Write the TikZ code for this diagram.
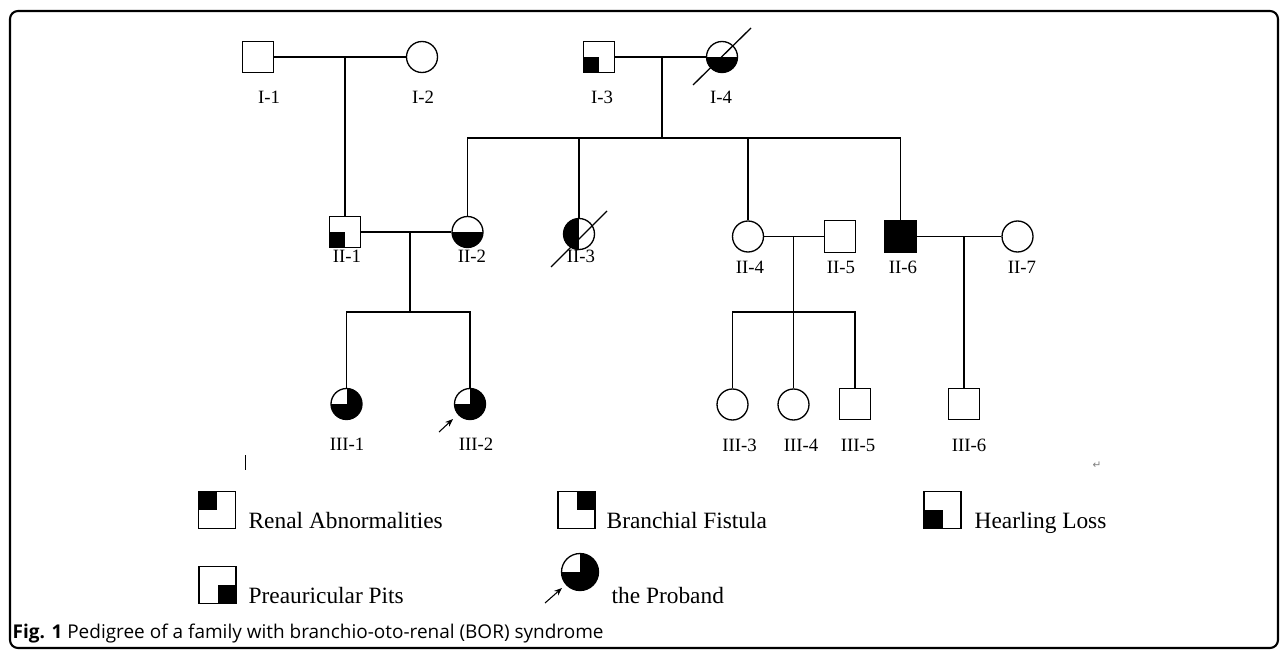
\documentclass[tikz,border=0pt]{standalone}
\usepackage{fontspec}
\setmainfont{Liberation Serif}
\newfontfamily\capfont{Open Sans}
\newfontfamily\symfont{DejaVu Sans}
\usetikzlibrary{arrows.meta}

\begin{document}
\begin{tikzpicture}[x=0.02cm,y=-0.02cm,line width=0.75pt,
    male/.style={draw,rectangle,minimum size=0.63cm,inner sep=0pt},
    female/.style={draw,circle,minimum size=0.62cm,inner sep=0pt},
    big/.style={minimum size=0.74cm},
    tl/.style={path picture={\fill (path picture bounding box.north west) rectangle (path picture bounding box.center);}},
    tr/.style={path picture={\fill (path picture bounding box.north east) rectangle (path picture bounding box.center);}},
    bl/.style={path picture={\fill (path picture bounding box.south west) rectangle (path picture bounding box.center);}},
    br/.style={path picture={\fill (path picture bounding box.south east) rectangle (path picture bounding box.center);}},
    lowhalf/.style={path picture={\fill (path picture bounding box.south west) rectangle (path picture bounding box.east);}},
    lefthalf/.style={path picture={\fill (path picture bounding box.south west) rectangle (path picture bounding box.north);}},
    threeq/.style={path picture={\fill (path picture bounding box.south west) rectangle (path picture bounding box.east);
        \fill (path picture bounding box.center) rectangle (path picture bounding box.north east);}},
    lab/.style={anchor=base,inner sep=0pt,font=\fontsize{10.7}{12}\selectfont},
    legtext/.style={anchor=base west,inner sep=0pt,font=\fontsize{13.3}{15}\selectfont},
    parrow/.style={-{Stealth[length=4.5pt,width=3.5pt]},line width=0.6pt}]
  \useasboundingbox (0,0) rectangle (1287,649);
  \draw[line width=1.2pt,rounded corners=0.16cm] (10,11) rectangle (1278,648);

  % generation I
  \node[male] (I1) at (258,57) {};
  \node[female] (I2) at (422,57) {};
  \node[male,bl] (I3) at (599,57) {};
  \node[female,lowhalf] (I4) at (722,57) {};
  \node[lab] (lI1) at (269,103) {I-1};
  \node[lab] (lI2) at (423,103) {I-2};
  \node[lab] (lI3) at (602,103) {I-3};
  \node[lab] (lI4) at (721,103) {I-4};
  \draw (I1) -- (I2);
  \draw (I3) -- (I4);
  \draw ([shift={(-29,28)}]I4.center) -- ([shift={(29,-29)}]I4.center);

  % generation II
  \node[male,bl] (II1) at (345,232) {};
  \node[female,lowhalf] (II2) at (467.5,232) {};
  \node[female,lefthalf] (II3) at (579,234) {};
  \node[female] (II4) at (748,236.5) {};
  \node[male] (II5) at (840,236.5) {};
  \node[male,fill=black] (II6) at (900.5,236.5) {};
  \node[female] (II7) at (1017.5,236.5) {};
  \node[lab] (lII1) at (347,262.7) {II-1};
  \node[lab] (lII2) at (472,262.7) {II-2};
  \node[lab] (lII3) at (581,262.7) {II-3};
  \node[lab] (lII4) at (750,273) {II-4};
  \node[lab] (lII5) at (841,273) {II-5};
  \node[lab] (lII6) at (903,273) {II-6};
  \node[lab] (lII7) at (1022,273) {II-7};
  \draw ([shift={(-28,33)}]II3.center) -- ([shift={(28,-23)}]II3.center);

  \coordinate (c1) at (345,57);
  \coordinate (c2) at (662,57);
  \coordinate (s2) at (662,138);
  \draw (c1) -- (II1);
  \draw (c2) -- (s2);
  \draw (s2) -| (II2);
  \draw (s2) -| (II3);
  \draw (s2) -| (II4);
  \draw (s2) -| (II6);
  \draw (II1) -- (II2);
  \draw (II4) -- (II5);
  \draw (II6) -- (II7);

  % generation III
  \node[female,threeq] (III1) at (346.5,404) {};
  \node[female,threeq] (III2) at (470,404) {};
  \node[female] (III3) at (732.5,404.5) {};
  \node[female] (III4) at (793.5,404.5) {};
  \node[male] (III5) at (855,404) {};
  \node[male] (III6) at (964,404) {};
  \node[lab] (lIII1) at (347,450) {III-1};
  \node[lab] (lIII2) at (476,450) {III-2};
  \node[lab] (lIII3) at (739.5,451.7) {III-3};
  \node[lab] (lIII4) at (801,451.7) {III-4};
  \node[lab] (lIII5) at (858,451.7) {III-5};
  \node[lab] (lIII6) at (969,451.7) {III-6};
  \draw[parrow] ([shift={(-31,28)}]III2.center) -- ([shift={(-17,15)}]III2.center);

  \coordinate (c3) at (410,232);
  \coordinate (s3) at (410,312);
  \coordinate (c4) at (793.5,236.5);
  \coordinate (s4) at (793.5,312);
  \coordinate (c5) at (964,236.5);
  \draw (c3) -- (s3);
  \draw (s3) -| (III1);
  \draw (s3) -| (III2);
  \draw (c4) -- (s4);
  \draw (s4) -| (III3);
  \draw (s4) -- (III4);
  \draw (s4) -| (III5);
  \draw (c5) -- (III6);

  \draw[line width=0.5pt] (245,455) -- (245,470);
  \node[text=gray,inner sep=0pt,font=\symfont\fontsize{6}{6}\selectfont] (ret) at (1097,465) {↵};

  % legend
  \node[male,big,tl] (k1) at (217,510) {};
  \node[legtext] (t1) at (248,528) {Renal Abnormalities};
  \node[male,big,tr] (k2) at (576.5,510) {};
  \node[legtext] (t2) at (606,528) {Branchial Fistula};
  \node[male,big,bl] (k3) at (942.5,510) {};
  \node[legtext] (t3) at (974,528) {Hearling Loss};
  \node[male,big,br] (k4) at (217.5,585) {};
  \node[legtext] (t4) at (248,603) {Preauricular Pits};
  \node[female,big,threeq] (k5) at (580,572) {};
  \node[legtext] (t5) at (611,603) {the Proband};
  \draw[parrow] ([shift={(-35,31)}]k5.center) -- ([shift={(-18,16)}]k5.center);

  \node[anchor=base west,inner sep=0pt,font=\capfont\fontsize{10.8}{12}\selectfont] (cap) at (12,638.7)
    {\textbf{Fig. 1} Pedigree of a family with branchio-oto-renal (BOR) syndrome};
\end{tikzpicture}
\end{document}
